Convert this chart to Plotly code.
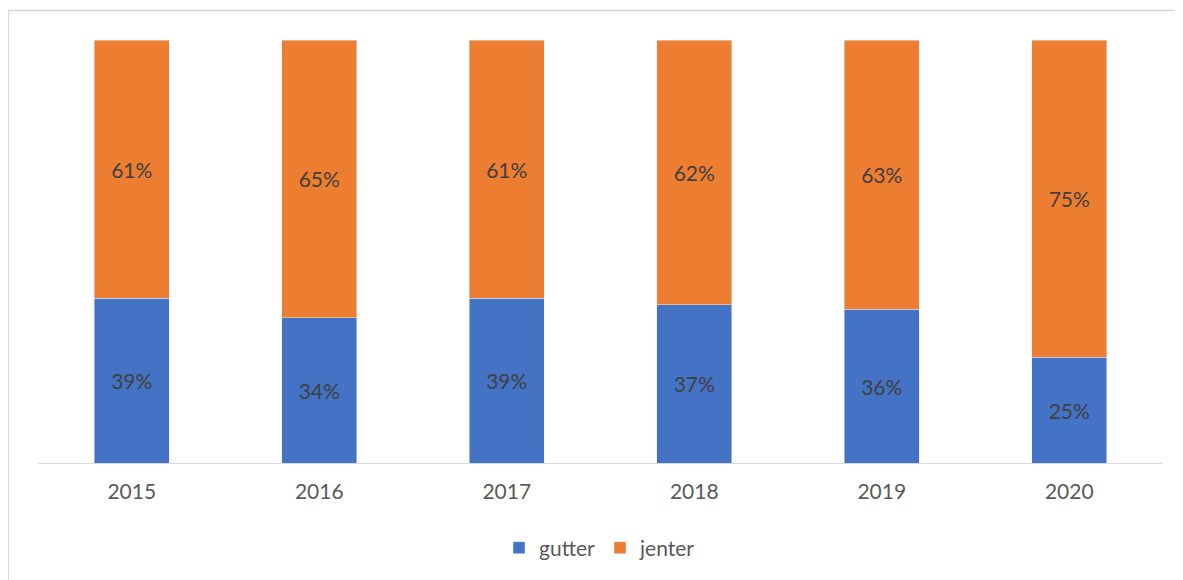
import plotly.graph_objects as go

years = ["2015", "2016", "2017", "2018", "2019", "2020"]
gutter = [39, 34, 39, 37, 36, 25]
jenter = [61, 65, 61, 62, 63, 75]

FONT = "Lato"
OFF = 8  # page body margin
W, H = 1183 - OFF, 580 - OFF
L, R, T, B = 30, 20, 32, 117
pw = W - L - R
ph = H - T - B

fig = go.Figure()
fig.add_trace(go.Bar(
    x=years, y=gutter, name="gutter", marker_color="#4472C4",
    text=[f"{v}%" for v in gutter], textposition="inside", insidetextanchor="middle",
    textfont=dict(family=FONT, size=21, color="#404040"), textangle=0,
    hoverinfo="skip"))
fig.add_trace(go.Bar(
    x=years, y=jenter, name="jenter", marker_color="#ED7D31",
    text=[f"{v}%" for v in jenter], textposition="inside", insidetextanchor="middle",
    textfont=dict(family=FONT, size=21, color="#404040"), textangle=0,
    hoverinfo="skip"))

# outer chart frame (partially cropped), page coords -> paper coords
def px(xp):
    return (xp - OFF - L) / pw

def py(yp):
    return (OFF + T + ph - yp) / ph

fig.add_shape(type="rect", xref="paper", yref="paper",
              x0=px(8.5), x1=px(1210), y0=py(600), y1=py(10.5),
              line=dict(color="#D9D9D9", width=1.3), fillcolor="rgba(0,0,0,0)", layer="below")

fig.update_layout(
    width=W, height=H,
    margin=dict(l=L, r=R, t=T, b=B),
    barmode="stack", barnorm="percent", bargap=0.6,
    paper_bgcolor="white", plot_bgcolor="white",
    font=dict(family=FONT, size=21, color="#595959"),
    showlegend=True,
    legend=dict(orientation="h", x=px(600), xanchor="center", y=py(548), yanchor="middle",
                font=dict(family=FONT, size=21, color="#595959"),
                itemwidth=30, traceorder="normal"),
)
fig.update_xaxes(showline=True, linecolor="#D9D9D9", linewidth=1.3, ticks="",
                 ticklabelstandoff=10,
                 showgrid=False, tickfont=dict(family=FONT, size=21, color="#595959"))
fig.update_yaxes(range=[0, 100], visible=False, showgrid=False)

fig.write_html("out.html")
